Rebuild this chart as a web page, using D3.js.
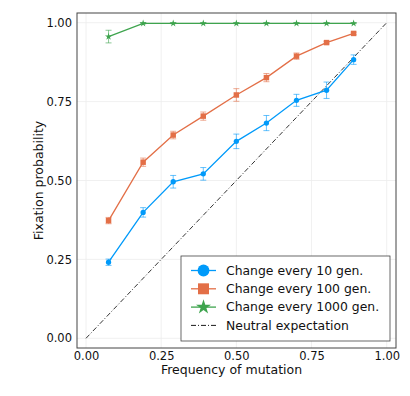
<!DOCTYPE html>
<html>
<head>
<meta charset="UTF-8">
<script src="https://d3js.org/d3.v7.min.js"></script>
<style>
  body { margin: 0; background: #fff; }
  svg { font-family: "DejaVu Sans", sans-serif; }
</style>
</head>
<body>
<svg width="410" height="396"></svg>
<script>
// data
const freq = [0.075, 0.19, 0.29, 0.39, 0.50, 0.60, 0.70, 0.80, 0.89]
const gen10 = [0.241, 0.399, 0.496, 0.521, 0.624, 0.682, 0.754, 0.786, 0.883]
const gen10Err = [0.010, 0.015, 0.020, 0.020, 0.023, 0.024, 0.019, 0.026, 0.015]
const gen100 = [0.373, 0.558, 0.644, 0.704, 0.771, 0.826, 0.894, 0.937, 0.966]
const gen100Err = [0.010, 0.013, 0.012, 0.013, 0.020, 0.013, 0.010, 0.004, 0.004]
const gen1000 = [0.956, 0.998, 0.998, 0.998, 0.998, 0.998, 0.998, 0.998, 0.998]
const gen1000Err = [0.020, 0.002, 0.001, 0.001, 0.001, 0.001, 0.001, 0.001, 0.001]
const ticks = [0, 0.25, 0.5, 0.75, 1]
const neutral = [0, 1]

const series = [
  { name: "Change every 10 gen.", y: gen10, err: gen10Err, color: "#009afa", shape: d3.symbolCircle, size: 22, lsize: 110 },
  { name: "Change every 100 gen.", y: gen100, err: gen100Err, color: "#e36f47", shape: d3.symbolSquare, size: 30, lsize: 120 },
  { name: "Change every 1000 gen.", y: gen1000, err: gen1000Err, color: "#3ea44e", shape: d3.symbolStar, size: 16, lsize: 70 }
]

const svg = d3.select("svg")
const box = { left: 77, right: 396, top: 13, bottom: 348 }
const x = d3.scaleLinear().domain([0, 1]).range([86, 386.7])
const y = d3.scaleLinear().domain([0, 1]).range([338.3, 22.7])

// grid
svg.append("g").selectAll("line").data(ticks).enter().append("line")
  .attr("x1", d => x(d)).attr("x2", d => x(d))
  .attr("y1", box.top).attr("y2", box.bottom)
  .attr("stroke", "#ececec").attr("stroke-width", 0.8)
svg.append("g").selectAll("line").data(ticks).enter().append("line")
  .attr("y1", d => y(d)).attr("y2", d => y(d))
  .attr("x1", box.left).attr("x2", box.right)
  .attr("stroke", "#ececec").attr("stroke-width", 0.8)

// axes
const xAxis = svg.append("g").attr("transform", `translate(0,${box.bottom})`)
  .call(d3.axisBottom(x).tickValues(ticks).tickFormat(d3.format(".2f")).tickSize(0).tickPadding(4))
const yAxis = svg.append("g").attr("transform", `translate(${box.left},0)`)
  .call(d3.axisLeft(y).tickValues(ticks).tickFormat(d3.format(".2f")).tickSize(0).tickPadding(5))
;[xAxis, yAxis].forEach(a => {
  a.select(".domain").remove()
  a.selectAll("text").attr("font-size", 11.5).attr("fill", "#111")
    .attr("font-family", "DejaVu Sans")
})

// frame
svg.append("rect")
  .attr("x", box.left).attr("y", box.top)
  .attr("width", box.right - box.left).attr("height", box.bottom - box.top)
  .attr("fill", "none").attr("stroke", "#444").attr("stroke-width", 1)

// neutral expectation
svg.append("line")
  .attr("x1", x(neutral[0])).attr("y1", y(neutral[0]))
  .attr("x2", x(neutral[1])).attr("y2", y(neutral[1]))
  .attr("stroke", "#000").attr("stroke-width", 0.8)
  .attr("stroke-dasharray", "5,2,1,2")

// series
series.forEach(s => {
  const pts = freq.map((f, i) => ({ x: f, y: s.y[i], e: s.err[i] }))
  const g = svg.append("g")
  // error bars
  g.selectAll(".eb").data(pts).enter().append("path")
    .attr("d", d => {
      const cx = x(d.x), t = y(d.y + d.e), b = y(d.y - d.e)
      return `M${cx},${t}V${b}M${cx - 3},${t}H${cx + 3}M${cx - 3},${b}H${cx + 3}`
    })
    .attr("stroke", s.color).attr("stroke-opacity", 0.6)
    .attr("stroke-width", 1).attr("fill", "none")
  g.append("path").datum(pts)
    .attr("d", d3.line().x(d => x(d.x)).y(d => y(d.y)))
    .attr("fill", "none").attr("stroke", s.color).attr("stroke-width", 1.3)
  g.selectAll(".mk").data(pts).enter().append("path")
    .attr("transform", d => `translate(${x(d.x)},${y(d.y)})`)
    .attr("d", d3.symbol().type(s.shape).size(s.size))
    .attr("fill", s.color)
})

// legend
const leg = svg.append("g")
leg.append("rect")
  .attr("x", 181).attr("y", 256).attr("width", 209).attr("height", 85)
  .attr("fill", "#fff").attr("stroke", "#444").attr("stroke-width", 0.8)
const rows = series.concat([{ name: "Neutral expectation", color: "#000", dash: true }])
rows.forEach((r, i) => {
  const ly = 270.5 + i * 18.3
  leg.append("line")
    .attr("x1", 191).attr("x2", 216).attr("y1", ly).attr("y2", ly)
    .attr("stroke", r.color).attr("stroke-width", r.dash ? 0.9 : 1.3)
    .attr("stroke-dasharray", r.dash ? "5,2,1,2" : null)
  if (r.shape) {
    leg.append("path")
      .attr("transform", `translate(203.5,${ly})`)
      .attr("d", d3.symbol().type(r.shape).size(r.lsize))
      .attr("fill", r.color)
  }
  leg.append("text")
    .attr("x", 226).attr("y", ly).attr("dy", "0.35em")
    .attr("font-size", 12.4).attr("fill", "#111")
    .text(r.name)
})

// axis labels
svg.append("text")
  .attr("x", (box.left + box.right) / 2 - 5).attr("y", 374)
  .attr("text-anchor", "middle").attr("font-size", 12.5).attr("fill", "#111")
  .text("Frequency of mutation")
svg.append("text")
  .attr("transform", `translate(43,${(box.top + box.bottom) / 2}) rotate(-90)`)
  .attr("text-anchor", "middle").attr("font-size", 12.5).attr("fill", "#111")
  .text("Fixation probability")
</script>
</body>
</html>
